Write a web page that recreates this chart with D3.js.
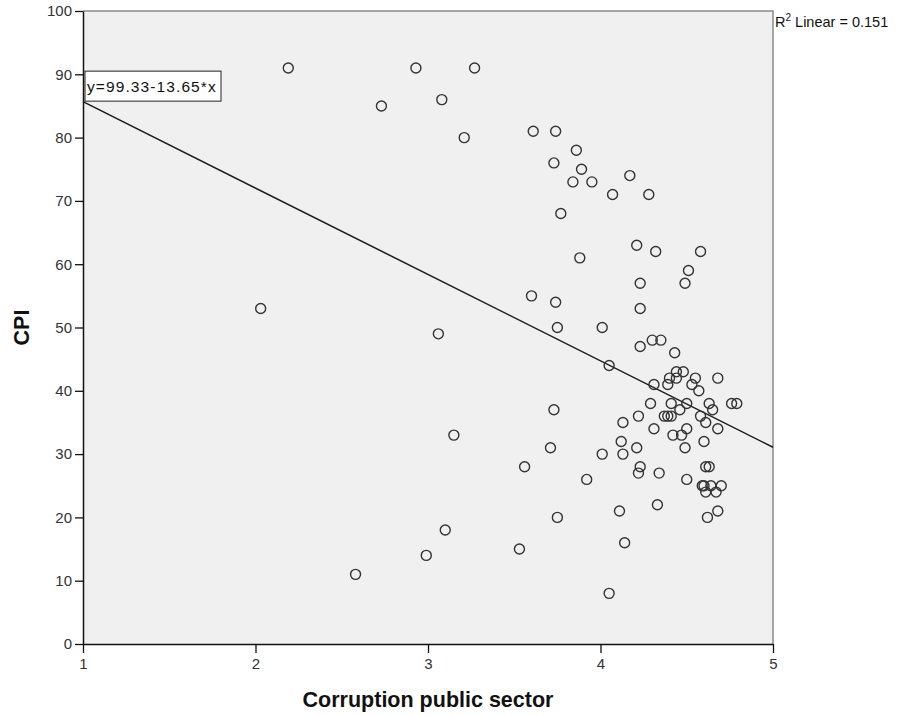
<!DOCTYPE html>
<html><head><meta charset="utf-8">
<script src="https://cdn.jsdelivr.net/npm/d3@7"></script>
<style>body{margin:0;background:#fff}svg{display:block;font-family:"Liberation Sans",Arial,sans-serif}</style>
</head><body><svg id="c" width="900" height="716"></svg>
<script>
const xVals = [2.19,2.93,3.27,2.73,3.08,3.21,3.61,3.74,3.86,3.73,3.89,3.84,3.95,4.17,4.07,4.28,3.77,4.21,4.32,4.58,3.88,4.51,4.49,4.23,3.60,3.74,4.23,2.03,3.75,4.01,3.06,4.30,4.35,4.23,4.43,4.05,4.44,4.48,4.40,4.44,4.55,4.68,4.31,4.39,4.53,4.57,4.29,4.41,4.50,4.63,4.76,4.79,3.73,4.46,4.65,4.22,4.37,4.39,4.41,4.58,4.13,4.61,4.31,4.50,4.68,3.15,4.42,4.47,4.12,4.60,3.71,4.21,4.49,4.01,4.13,3.56,4.23,4.61,4.63,4.22,4.34,3.92,4.50,4.59,4.60,4.64,4.70,4.61,4.67,4.33,4.11,4.68,3.75,4.62,3.10,4.14,3.53,2.99,2.58,4.05];
const yVals = [91,91,91,85,86,80,81,81,78,76,75,73,73,74,71,71,68,63,62,62,61,59,57,57,55,54,53,53,50,50,49,48,48,47,46,44,43,43,42,42,42,42,41,41,41,40,38,38,38,38,38,38,37,37,37,36,36,36,36,36,35,35,34,34,34,33,33,33,32,32,31,31,31,30,30,28,28,28,28,27,27,26,26,25,25,25,25,24,24,22,21,21,20,20,18,16,15,14,11,8];
const xTicks = [1,2,3,4,5];
const yTicks = [0,10,20,30,40,50,60,70,80,90,100];
const fitIntercept = 99.33, fitSlope = -13.65;
const fitLabel = "y=99.33-13.65*x";
const r2Label = "0.151";
const xTitle = "Corruption public sector", yTitle = "CPI";

const svg = d3.select("#c");
const L = 83, R = 773, T = 11, B = 644;
const x = d3.scaleLinear().domain([1,5]).range([L,R]);
const y = d3.scaleLinear().domain([0,100]).range([B,T]);

svg.append("rect").attr("x",L).attr("y",T).attr("width",R-L).attr("height",B-T).attr("fill","#f0f0f0");
svg.append("path").attr("d",`M${L},${T}H${R}V${B}`).attr("fill","none").attr("stroke","#8a8a8a").attr("stroke-width",1.5);

svg.append("line").attr("x1",x(1)).attr("y1",y(fitIntercept+fitSlope*1))
  .attr("x2",x(5)).attr("y2",y(fitIntercept+fitSlope*5)).attr("stroke","#1a1a1a").attr("stroke-width",1.5);

const pts = xVals.map((v,i)=>({x:v,y:yVals[i]}));
svg.append("g").selectAll("circle").data(pts).join("circle")
  .attr("cx",d=>x(d.x)).attr("cy",d=>y(d.y)).attr("r",5)
  .attr("fill","none").attr("stroke","#333").attr("stroke-width",1.4);

const fmt = d3.format("d");
const ya = svg.append("g").attr("transform",`translate(${L},0)`)
  .call(d3.axisLeft(y).tickValues(yTicks).tickFormat(fmt).tickSize(8).tickPadding(3).tickSizeOuter(0));
const xa = svg.append("g").attr("transform",`translate(0,${B})`)
  .call(d3.axisBottom(x).tickValues(xTicks).tickFormat(fmt).tickSize(9).tickPadding(5).tickSizeOuter(0));
[ya,xa].forEach(g=>{
  g.attr("font-size",15).attr("font-family","Liberation Sans, Arial, sans-serif");
  g.select(".domain").attr("stroke","#111").attr("stroke-width",1.5);
  g.selectAll(".tick line").attr("stroke","#111").attr("stroke-width",1.3);
  g.selectAll(".tick text").attr("fill","#333");
});

const lb = svg.append("g");
lb.append("rect").attr("x",x(1)+2).attr("y",y(90.5)).attr("width",136).attr("height",30)
  .attr("fill","#fff").attr("stroke","#222").attr("stroke-width",1);
lb.append("text").attr("x",x(1)+4).attr("y",y(90.5)+21).attr("font-size","15.5px")
  .attr("letter-spacing","1.1px").attr("fill","#111").text(fitLabel);

const rt = svg.append("text").attr("x",R+2).attr("y",T+16).attr("font-size","14.5px").attr("fill","#111");
rt.append("tspan").text("R");
rt.append("tspan").attr("dy",-6).attr("font-size","10px").text("2");
rt.append("tspan").attr("dy",6).text(" Linear = "+r2Label);

svg.append("text").attr("x",(L+R)/2).attr("y",707).attr("text-anchor","middle")
  .attr("font-weight","bold").attr("font-size","21.5px").attr("fill","#111").text(xTitle);
svg.append("text").attr("transform",`translate(29,${(T+B)/2}) rotate(-90)`).attr("text-anchor","middle")
  .attr("font-weight","bold").attr("font-size","21.5px").attr("fill","#111").text(yTitle);
</script></body></html>
